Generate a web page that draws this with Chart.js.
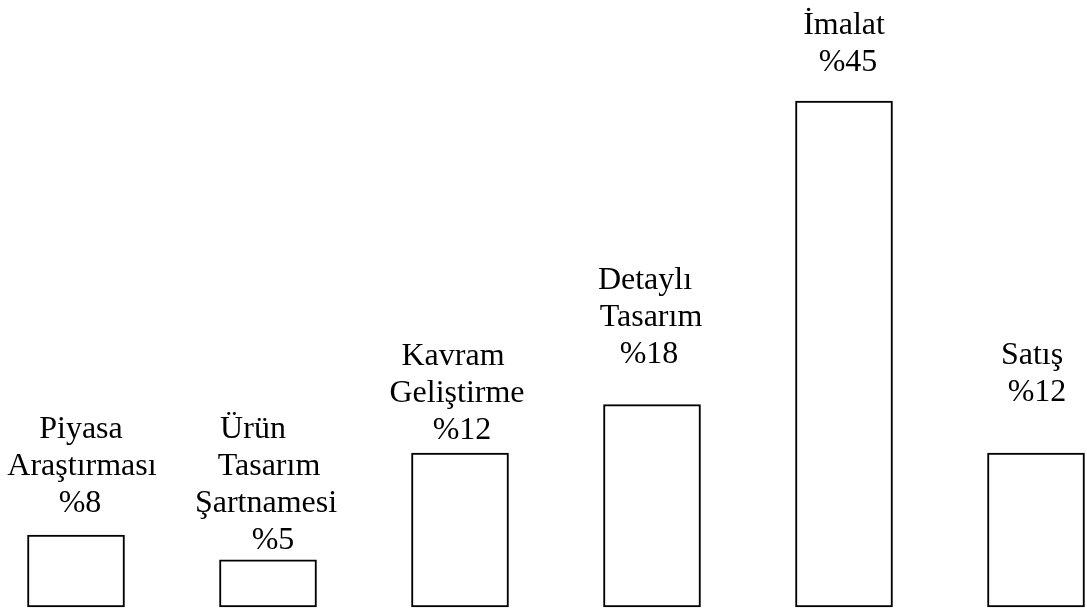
<!DOCTYPE html>
<html lang="tr">
<head>
<meta charset="utf-8">
<title>Ürün geliştirme aşamaları</title>
<script src="https://cdn.jsdelivr.net/npm/chart.js@4.4.1/dist/chart.umd.min.js"></script>
<style>
  html, body { margin: 0; padding: 0; background: #fff; }
  #wrap { width: 1087px; height: 610px; position: relative; }
</style>
</head>
<body>
<div id="wrap"><canvas id="stageChart"></canvas></div>
<script>
// veriler
const categories = ['Piyasa Araştırması', 'Ürün Tasarım Şartnamesi', 'Kavram Geliştirme', 'Detaylı Tasarım', 'İmalat', 'Satış'];
const nameLines = [['Piyasa', 'Araştırması'], ['Ürün', 'Tasarım', 'Şartnamesi'], ['Kavram', 'Geliştirme'], ['Detaylı', 'Tasarım'], ['İmalat'], ['Satış']];
const shares = [8, 5, 12, 18, 45, 12];            // etiketlerdeki yüzdeler
const barHeights = [6.4, 4.2, 13.7, 18, 45, 13.7]; // çizilen sütun boyları

// etiket yerleşimi (px): her satırın sütun ortasına göre kayması, son satır ile sütun arası boşluk
const lineShift = [[5, 6, 4], [-15, 1, -2, 5], [-7, -3, 2], [-7, -1, -3], [0, 4], [-4, 1]];
const labelGap = [23, 11, 14, 42, 30, 52];
const lineStep = 36.8;

// sütunların üstüne yazı
const stageLabels = {
    id: 'stageLabels',
    afterDatasetsDraw(chart) {
        const ctx = chart.ctx;
        const meta = chart.getDatasetMeta(0);
        ctx.save();
        ctx.fillStyle = '#000';
        ctx.font = '32px "Liberation Serif", "Times New Roman", serif';
        ctx.textAlign = 'center';
        ctx.textBaseline = 'alphabetic';
        meta.data.forEach((bar, i) => {
            const lines = nameLines[i].concat(['%' + shares[i]]);
            let y = bar.y - labelGap[i] - (lines.length - 1) * lineStep;
            lines.forEach((line, j) => {
                ctx.fillText(line, bar.x + lineShift[i][j], y);
                y += lineStep;
            });
        });
        ctx.restore();
    }
};

const ctx = document.getElementById('stageChart').getContext('2d');
const stageChart = new Chart(ctx, {
    type: 'bar',
    data: {
        labels: categories,
        datasets: [{
            data: barHeights,
            backgroundColor: '#fff',
            borderColor: '#000',
            borderWidth: 2,
            borderSkipped: false,
            barThickness: 97,
            clip: false
        }]
    },
    options: {
        responsive: true,
        maintainAspectRatio: false,
        animation: false,
        layout: { padding: { left: 76, right: 51, top: 0, bottom: 3 } },
        plugins: { legend: { display: false }, tooltip: { enabled: false } },
        scales: {
            x: { type: 'category', offset: false, display: false },
            y: { min: 0, max: 54, display: false }
        }
    },
    plugins: [stageLabels]
});
</script>
</body>
</html>
